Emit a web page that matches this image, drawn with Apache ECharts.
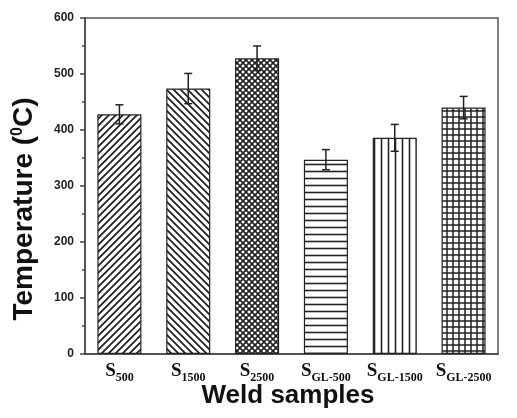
<!DOCTYPE html>
<html><head><meta charset="utf-8">
<script src="https://cdn.jsdelivr.net/npm/echarts@6/dist/echarts.min.js"></script>
<style>html,body{margin:0;padding:0;background:#fff}#c{width:517px;height:418px}</style>
</head><body><div id="c"></div>
<script>
var categories = ['S_500', 'S_1500', 'S_2500', 'S_GL-500', 'S_GL-1500', 'S_GL-2500'];
var values = [428, 474, 528, 347, 386, 440];
var errors = [17, 27, 22, 18, 24, 20];
var yTicks = [0, 100, 200, 300, 400, 500, 600];

function tile(w, h, draw) {
  var c = document.createElement('canvas');
  c.width = w; c.height = h;
  var g = c.getContext('2d');
  g.fillStyle = '#fff'; g.fillRect(0, 0, w, h);
  g.strokeStyle = '#222';
  draw(g, w, h);
  return { image: c, repeat: 'repeat' };
}
function fwd(g, w, h) { g.beginPath(); g.moveTo(-1, h + 1); g.lineTo(w + 1, -1); g.moveTo(-w / 2 - 1, h / 2 + 1); g.lineTo(w / 2 + 1, -h / 2 - 1); g.moveTo(w / 2 - 1, h * 1.5 + 1); g.lineTo(w * 1.5 + 1, h / 2 - 1); g.stroke(); }
function bwd(g, w, h) { g.beginPath(); g.moveTo(-1, -1); g.lineTo(w + 1, h + 1); g.moveTo(-w / 2 - 1, h / 2 - 1); g.lineTo(w / 2 + 1, h * 1.5 + 1); g.moveTo(w / 2 - 1, -h / 2 - 1); g.lineTo(w * 1.5 + 1, h / 2 + 1); g.stroke(); }
var patterns = [
  tile(7, 7, function (g, w, h) { g.lineWidth = 1.8; fwd(g, w, h); }),
  tile(7, 7, function (g, w, h) { g.lineWidth = 1.8; bwd(g, w, h); }),
  tile(6, 6, function (g, w, h) { g.lineWidth = 1.6; fwd(g, w, h); bwd(g, w, h); }),
  tile(7, 7, function (g, w, h) { g.lineWidth = 1.6; g.beginPath(); g.moveTo(0, 3.5); g.lineTo(w, 3.5); g.stroke(); }),
  tile(7, 7, function (g, w, h) { g.lineWidth = 1.6; g.beginPath(); g.moveTo(3.5, 0); g.lineTo(3.5, h); g.stroke(); }),
  tile(6, 6, function (g, w, h) { g.lineWidth = 1.5; g.beginPath(); g.moveTo(0, 3); g.lineTo(w, 3); g.moveTo(3, 0); g.lineTo(3, h); g.stroke(); })
];

var chart = echarts.init(document.getElementById('c'), null, { renderer: 'canvas' });
var barData = values.map(function (v, i) { return { value: v, itemStyle: { color: patterns[i] } }; });
var errData = values.map(function (v, i) { return [i, v - errors[i], v + errors[i]]; });

chart.setOption({
  animation: false,
  backgroundColor: '#fff',
  grid: { left: 85, right: 19, top: 18, bottom: 64, show: true, borderColor: '#555', borderWidth: 1.5, backgroundColor: 'transparent' },
  graphic: [
    { type: 'text', left: 10, top: 'middle', rotation: Math.PI / 2, x: 24, y: 209, originX: 0, originY: 0,
      style: { text: '{t|Temperature (}{sup|0}{t|C)}', align: 'center', verticalAlign: 'middle',
        rich: {
          t: { fontFamily: 'Liberation Sans', fontWeight: 'bold', fontSize: 28, fill: '#111' },
          sup: { fontFamily: 'Liberation Sans', fontWeight: 'bold', fontSize: 16, fill: '#111', padding: [0, 0, 12, 0] }
        } } },
    { type: 'text', x: 288, y: 396,
      style: { text: 'Weld samples', align: 'center', verticalAlign: 'middle',
        fontFamily: 'Liberation Sans', fontWeight: 'bold', fontSize: 26, fill: '#111' } }
  ],
  xAxis: {
    type: 'category', data: categories,
    axisLine: { lineStyle: { color: '#444', width: 1.5 } },
    axisTick: { show: false },
    axisLabel: {
      interval: 0, margin: 8,
      formatter: function (s) { var p = s.split('_'); return '{s|S}{sub|' + p[1] + '}'; },
      rich: {
        s: { fontFamily: 'Liberation Serif', fontWeight: 'bold', fontSize: 19, color: '#111', verticalAlign: 'bottom' },
        sub: { fontFamily: 'Liberation Serif', fontWeight: 'bold', fontSize: 12, color: '#111', verticalAlign: 'bottom', padding: [0, 0, -3, 0] }
      }
    }
  },
  yAxis: {
    type: 'value', min: 0, max: 600, interval: 100,
    axisLine: { show: true, lineStyle: { color: '#444', width: 1.5 } },
    axisTick: { show: true, inside: false, length: 5, lineStyle: { color: '#444', width: 1.5 } },
    minorTick: { show: true, splitNumber: 2, length: 3, lineStyle: { color: '#444', width: 1.5 } },
    splitLine: { show: false },
    axisLabel: { margin: 11, fontFamily: 'Liberation Sans', fontWeight: 'bold', fontSize: 12, color: '#222',
      formatter: function (v) { return yTicks.indexOf(v) >= 0 ? String(v) : ''; } }
  },
  series: [
    { type: 'bar', data: barData, barCategoryGap: '36%',
      itemStyle: { borderColor: '#222', borderWidth: 1.2 } },
    { type: 'custom', data: errData, z: 10,
      renderItem: function (params, api) {
        var x = api.value(0);
        var lo = api.coord([x, api.value(1)]);
        var hi = api.coord([x, api.value(2)]);
        var cw = 4;
        var st = { stroke: '#222', lineWidth: 1.5 };
        return { type: 'group', children: [
          { type: 'line', shape: { x1: lo[0], y1: lo[1], x2: hi[0], y2: hi[1] }, style: st },
          { type: 'line', shape: { x1: lo[0] - cw, y1: lo[1], x2: lo[0] + cw, y2: lo[1] }, style: st },
          { type: 'line', shape: { x1: hi[0] - cw, y1: hi[1], x2: hi[0] + cw, y2: hi[1] }, style: st }
        ] };
      } }
  ]
});
</script></body></html>
